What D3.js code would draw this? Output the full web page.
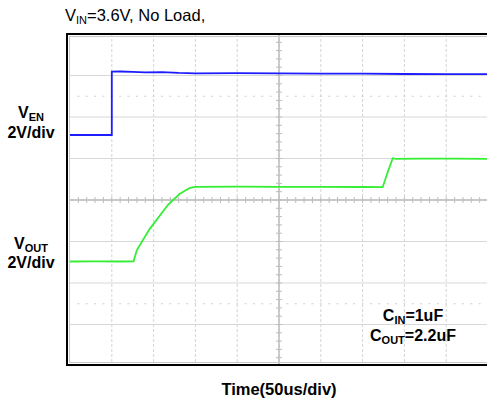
<!DOCTYPE html>
<html lang="en">
<head>
<meta charset="UTF-8">
<title>Startup waveform</title>
<script src="https://d3js.org/d3.v7.min.js"></script>
<style>
  body { margin: 0; background: #fff; }
  text { font-family: Arial, "Liberation Sans", sans-serif; }
</style>
</head>
<body>
<script>
// time in us, voltage in V
var enTime = [0, 15, 30, 45, 50, 50, 60, 75, 90, 110, 130, 150, 200, 250, 300, 350, 400, 450, 500];
var enVolt = [0, 0.01, 0, 0.01, 0, 3.05, 3.06, 3.04, 3.02, 3.03, 2.99, 2.97, 2.98, 2.97, 2.96, 2.96, 2.94, 2.93, 2.93];

var outTime = [0, 30, 60, 76, 80, 95, 117, 131, 143, 150, 200, 250, 300, 350, 374, 380, 386, 390, 420, 460, 500];
var outVolt = [0, 0.01, 0, 0.01, 0.55, 1.55, 2.72, 3.25, 3.54, 3.6, 3.61, 3.6, 3.6, 3.59, 3.58, 4.3, 4.98, 4.95, 4.96, 4.96, 4.95];

var enOffset = 1.566;   // ground marker, divisions from centre
var outOffset = -1.482;

var width = 487, height = 403;
var svg = d3.select("body").append("svg")
    .attr("width", width)
    .attr("height", height);

svg.append("rect").attr("width", width).attr("height", height).attr("fill", "#fff");

var x = d3.scaleLinear().domain([0, 500]).range([70, 488]);
var y = d3.scaleLinear().domain([-4, 4]).range([366, 34]);

var g = svg.append("g");

// grid
g.selectAll(".vg").data(d3.range(1, 10)).enter().append("line")
    .attr("x1", d => x(d * 50)).attr("x2", d => x(d * 50))
    .attr("y1", y(4)).attr("y2", y(-4))
    .attr("stroke", "#d4d4d4").attr("stroke-width", 1)
    .attr("stroke-dasharray", "3,2");
g.selectAll(".hg").data(d3.range(-3, 4)).enter().append("line")
    .attr("x1", x(0)).attr("x2", x(500))
    .attr("y1", d => y(d)).attr("y2", d => y(d))
    .attr("stroke", "#d8d8d8").attr("stroke-width", 1.2);

// dotted rows at +-2.5 div
[-2.5, 2.5].forEach(function (r) {
    g.selectAll(null).data(d3.range(10, 500, 10)).enter().append("line")
        .attr("x1", d => x(d) - 1).attr("x2", d => x(d) + 1)
        .attr("y1", y(r)).attr("y2", y(r))
        .attr("stroke", "#cfcfcf").attr("stroke-width", 1);
});

// centre cross with ticks
g.append("line").attr("x1", x(0)).attr("x2", x(500)).attr("y1", y(0)).attr("y2", y(0))
    .attr("stroke", "#bdbdbd").attr("stroke-width", 1.5);
g.append("line").attr("x1", x(250)).attr("x2", x(250)).attr("y1", y(4)).attr("y2", y(-4))
    .attr("stroke", "#bdbdbd").attr("stroke-width", 1.5);
g.selectAll(".xt").data(d3.range(10, 500, 10)).enter().append("line")
    .attr("x1", d => x(d)).attr("x2", d => x(d))
    .attr("y1", y(0) - 3).attr("y2", y(0) + 3)
    .attr("stroke", "#bdbdbd").attr("stroke-width", 1);
g.selectAll(".yt").data(d3.range(-3.8, 4, 0.2)).enter().append("line")
    .attr("x1", x(250) - 3).attr("x2", x(250) + 3)
    .attr("y1", d => y(d)).attr("y2", d => y(d))
    .attr("stroke", "#bdbdbd").attr("stroke-width", 1);

// frame
svg.append("rect").attr("x", 69.5).attr("y", 36.5).attr("width", 430).attr("height", 326)
    .attr("fill", "none").attr("stroke", "#c8c8c8").attr("stroke-width", 1);
svg.append("rect").attr("x", 67).attr("y", 34).attr("width", 440).attr("height", 331)
    .attr("fill", "none").attr("stroke", "#000").attr("stroke-width", 2);

// traces
var enLine = d3.line().x((d, i) => x(enTime[i])).y(d => y(enOffset + d / 2));
var outLine = d3.line().x((d, i) => x(outTime[i])).y(d => y(outOffset + d / 2));

svg.append("path").attr("d", enLine(enVolt))
    .attr("fill", "none").attr("stroke", "#1c1cff").attr("stroke-width", 1.8);
svg.append("path").attr("d", outLine(outVolt))
    .attr("fill", "none").attr("stroke", "#33ee33").attr("stroke-width", 1.8);

// labels
function sub(sel, main, subTxt, rest, size) {
    sel.append("tspan").text(main);
    sel.append("tspan").attr("font-size", size).attr("dy", 3).text(subTxt);
    if (rest) sel.append("tspan").attr("dy", -3).text(rest);
}

var t1 = svg.append("text").attr("x", 65).attr("y", 21).attr("font-size", 16.5).attr("fill", "#000");
sub(t1, "V", "IN", "=3.6V, No Load,", 11);

var l1 = svg.append("text").attr("x", 31).attr("y", 118).attr("font-size", 16)
    .attr("font-weight", "bold").attr("text-anchor", "middle");
sub(l1, "V", "EN", null, 11);
svg.append("text").attr("x", 31).attr("y", 138).attr("font-size", 16)
    .attr("font-weight", "bold").attr("text-anchor", "middle").text("2V/div");

var l2 = svg.append("text").attr("x", 31).attr("y", 249).attr("font-size", 16)
    .attr("font-weight", "bold").attr("text-anchor", "middle");
sub(l2, "V", "OUT", null, 11);
svg.append("text").attr("x", 31).attr("y", 268).attr("font-size", 16)
    .attr("font-weight", "bold").attr("text-anchor", "middle").text("2V/div");

var c1 = svg.append("text").attr("x", 413).attr("y", 321).attr("font-size", 16)
    .attr("font-weight", "bold").attr("text-anchor", "middle");
sub(c1, "C", "IN", "=1uF", 11);
var c2 = svg.append("text").attr("x", 413).attr("y", 341).attr("font-size", 16)
    .attr("font-weight", "bold").attr("text-anchor", "middle");
sub(c2, "C", "OUT", "=2.2uF", 11);

svg.append("text").attr("x", 279).attr("y", 395).attr("font-size", 16.5)
    .attr("font-weight", "bold").attr("text-anchor", "middle").text("Time(50us/div)");
</script>
</body>
</html>
